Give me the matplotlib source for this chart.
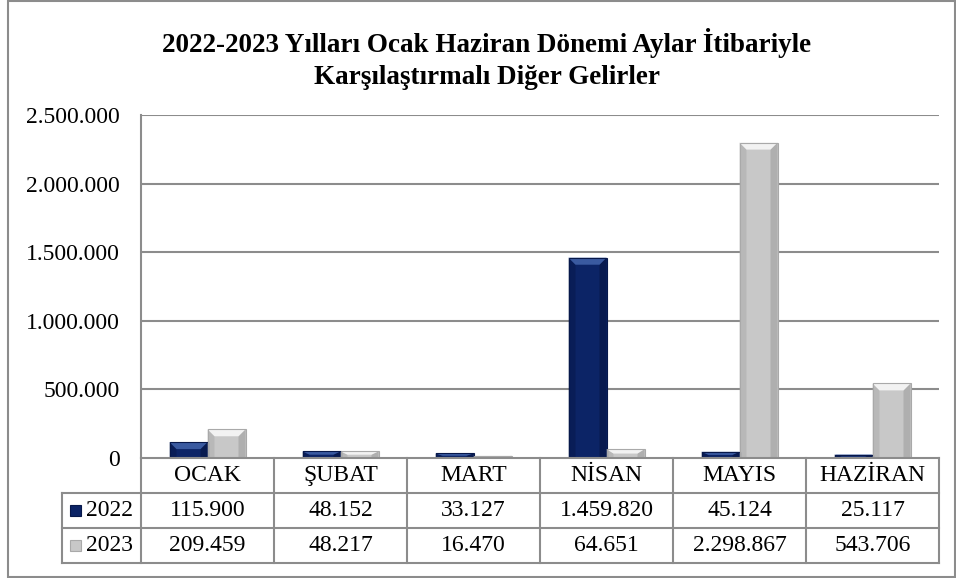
import matplotlib
matplotlib.use('Agg')
import matplotlib.pyplot as plt
from matplotlib.patches import Polygon, Rectangle

plt.rcParams['font.family'] = ['Liberation Serif', 'DejaVu Serif']

# data
months = ['OCAK', 'ŞUBAT', 'MART', 'NİSAN', 'MAYIS', 'HAZİRAN']
series = ['2022', '2023']
v2022 = [115900, 48152, 33127, 1459820, 45124, 25117]
v2023 = [209459, 48217, 16470, 64651, 2298867, 543706]
yticks = [0, 500000, 1000000, 1500000, 2000000, 2500000]
title = '2022-2023 Yılları Ocak Haziran Dönemi Aylar İtibariyle\nKarşılaştırmalı Diğer Gelirler'

# colours: main, top bevel, side bevel
styles = {
    '2022': ('#0c2466', '#3a5aa0', '#07184a'),
    '2023': ('#c8c8c8', '#f2f2f2', '#a9a9a9'),
}
grid_c = '#8c8c8c'

W, H = 956, 578
fig = plt.figure(figsize=(W / 100, H / 100), dpi=100)


def fx(px):
    return px / W


def fy(py):
    return 1 - py / H


# outer chart border
fig.patches.append(Rectangle((fx(8), fy(577)), fx(947), 576 / H, transform=fig.transFigure,
                             fill=False, ec=grid_c, lw=1.5))

left, right, top, base = 141, 939, 115, 458
ax = fig.add_axes([fx(left), fy(base), fx(right - left), (base - top) / H])
ax.set_xlim(-0.5, len(months) - 0.5)
ax.set_ylim(0, 2500000)
for s in ['top', 'right', 'bottom']:
    ax.spines[s].set_visible(False)
ax.spines['left'].set_color(grid_c)
ax.spines['left'].set_linewidth(1.5)
ax.set_xticks([])
ax.set_yticks(yticks)
ax.set_yticklabels([f'{v:,}'.replace(',', '.') for v in yticks], fontsize=17)
ax.tick_params(axis='y', length=0, pad=15)
for t in yticks[1:]:
    ax.axhline(t, color=grid_c, lw=1.5, zorder=1)

bw = 38 / 133
px_y = 2500000 / (base - top)
px_x = 1 / 133


def bevel_bar(x0, h, cols):
    main, light, dark = cols
    x1 = x0 + bw
    bx = 7 * px_x
    by = min(7 * px_y, h / 2)
    ax.add_patch(Rectangle((x0, 0), bw, h, fc=main, ec='none', zorder=3))
    ax.add_patch(Polygon([(x0, 0), (x0, h), (x0 + bx, h - by), (x0 + bx, 0)],
                         fc=dark, ec='none', alpha=0.5, zorder=4))
    ax.add_patch(Polygon([(x1, 0), (x1, h), (x1 - bx, h - by), (x1 - bx, 0)],
                         fc=dark, ec='none', alpha=0.8, zorder=4))
    ax.add_patch(Polygon([(x0, h), (x1, h), (x1 - bx, h - by), (x0 + bx, h - by)],
                         fc=light, ec='none', zorder=4))
    ax.add_patch(Rectangle((x0, 0), bw, h, fc='none', ec=dark, lw=0.8, zorder=5))


for i in range(len(months)):
    bevel_bar(i - bw, v2022[i], styles['2022'])
    bevel_bar(i, v2023[i], styles['2023'])

# data table
tl = 62
tb = 563
tax = fig.add_axes([fx(tl), fy(tb), fx(right - tl), (tb - base) / H])
tax.set_xlim(-0.5 - (left - tl) / 133, len(months) - 0.5)
tax.set_ylim(3, 0)
tax.axis('off')
xl = -0.5 - (left - tl) / 133
lk = dict(color=grid_c, lw=1.5, clip_on=False)
tax.plot([-0.5, len(months) - 0.5], [0, 0], **lk)
for r in [1, 2, 3]:
    tax.plot([xl, len(months) - 0.5], [r, r], **lk)
tax.plot([xl, xl], [1, 3], **lk)
for i in range(len(months) + 1):
    tax.plot([i - 0.5, i - 0.5], [0, 3], **lk)
for i, m in enumerate(months):
    tax.text(i, 0.5, m, ha='center', va='center', fontsize=17)
    tax.text(i, 1.5, f'{v2022[i]:,}'.replace(',', '.'), ha='center', va='center', fontsize=17)
    tax.text(i, 2.5, f'{v2023[i]:,}'.replace(',', '.'), ha='center', va='center', fontsize=17)
for r, s in enumerate(series):
    main, light, dark = styles[s]
    kx = xl + 8 / 133
    tax.add_patch(Rectangle((kx, 1.34 + r), 11 / 133, 0.32, fc=main, ec=dark, lw=0.8))
    tax.text(xl + 24 / 133, 1.5 + r, s, ha='left', va='center', fontsize=17)

fig.text(fx(487), fy(59), title, ha='center', va='center', fontsize=19.5,
         fontweight='bold', linespacing=1.32)

fig.savefig('out.png', dpi=100)
